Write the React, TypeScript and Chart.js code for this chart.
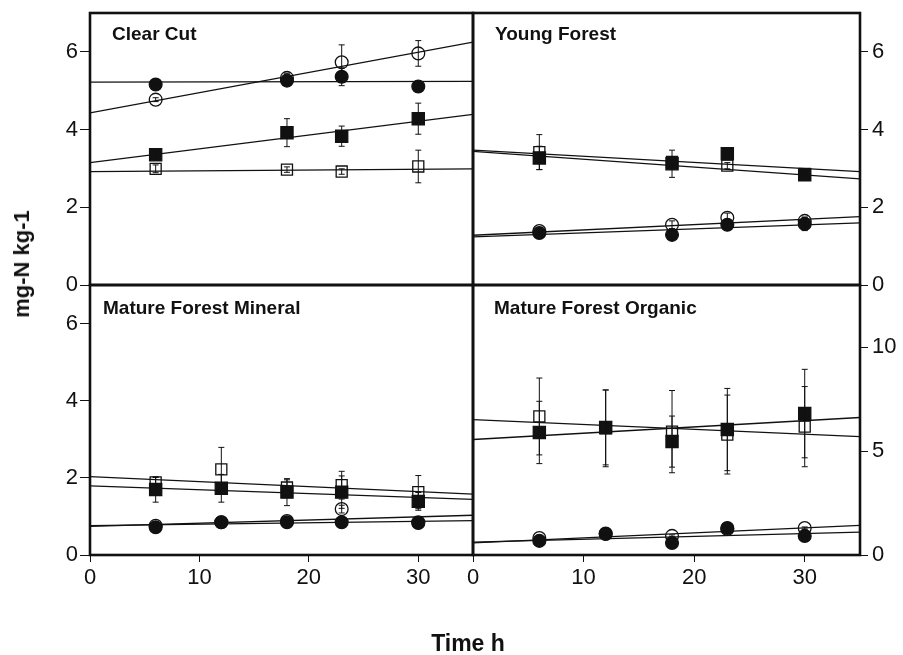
import React, { useEffect, useRef } from "react";
import { Chart, registerables } from "chart.js";

Chart.register(...registerables);

// ---------------- data ----------------
const X_MAX = 35;
const xTicks = [0, 10, 20, 30];
const yTicksN = [0, 2, 4, 6];
const yTicksOrganic = [0, 5, 10];

// Clear Cut
const ccTimes = [6, 18, 23, 30];
const ccOpenCircle = [4.77, 5.33, 5.73, 5.96];
const ccOpenCircleErr = [0.05, 0.12, 0.45, 0.33];
const ccFilledCircle = [5.16, 5.26, 5.36, 5.11];
const ccFilledCircleErr = [0.05, 0.1, 0.23, 0.05];
const ccFilledSquare = [3.35, 3.92, 3.83, 4.28];
const ccFilledSquareErr = [0.1, 0.36, 0.26, 0.4];
const ccOpenSquare = [2.99, 2.97, 2.92, 3.05];
const ccOpenSquareErr = [0.1, 0.07, 0.07, 0.42];
const ccFitOpenCircle = [4.43, 6.25];
const ccFitFilledCircle = [5.22, 5.24];
const ccFitFilledSquare = [3.15, 4.39];
const ccFitOpenSquare = [2.92, 2.99];

// Young Forest
const yfTimes = [6, 18, 23, 30];
const yfOpenCircle = [1.39, 1.55, 1.73, 1.65];
const yfOpenCircleErr = [0.05, 0.1, 0.12, 0.1];
const yfFilledCircle = [1.34, 1.29, 1.55, 1.57];
const yfFilledCircleErr = [0.05, 0.1, 0.08, 0.17];
const yfFilledSquare = [3.27, 3.12, 3.38, 2.84];
const yfFilledSquareErr = [0.3, 0.35, 0, 0.05];
const yfOpenSquare = [3.42, 3.17, 3.07, 2.86];
const yfOpenSquareErr = [0.45, 0.1, 0.08, 0.05];
const yfFitOpenCircle = [1.28, 1.76];
const yfFitFilledCircle = [1.24, 1.6];
const yfFitFilledSquare = [3.44, 2.73];
const yfFitOpenSquare = [3.47, 2.92];

// Mature Forest Mineral
const mmTimes = [6, 12, 18, 23, 30];
const mmOpenCircle = [0.76, 0.85, 0.88, 1.19, 0.85];
const mmOpenCircleErr = [0.03, 0.03, 0.05, 0.1, 0.05];
const mmFilledCircle = [0.72, 0.85, 0.85, 0.85, 0.83];
const mmFilledCircleErr = [0.05, 0.05, 0.05, 0.05, 0.05];
const mmFilledSquare = [1.7, 1.73, 1.63, 1.63, 1.39];
const mmFilledSquareErr = [0.33, 0.36, 0.35, 0.42, 0.23];
const mmOpenSquare = [1.88, 2.22, 1.75, 1.81, 1.63];
const mmOpenSquareErr = [0.13, 0.57, 0.2, 0.36, 0.43];
const mmFitOpenCircle = [0.74, 1.03];
const mmFitFilledCircle = [0.76, 0.89];
const mmFitFilledSquare = [1.79, 1.44];
const mmFitOpenSquare = [2.03, 1.58];

// Mature Forest Organic
const moTimes = [6, 12, 18, 23, 30];
const moOpenCircle = [0.82, 1.03, 0.92, 1.25, 1.3];
const moOpenCircleErr = [0.05, 0.05, 0.05, 0.05, 0.05];
const moFilledCircle = [0.68, 1.01, 0.58, 1.3, 0.92];
const moFilledCircleErr = [0.05, 0.05, 0.05, 0.05, 0.05];
const moFilledSquare = [5.9, 6.14, 5.46, 6.04, 6.81];
const moFilledSquareErr = [1.5, 1.8, 1.23, 1.98, 2.13];
const moOpenSquare = [6.67, 6.1, 5.94, 5.8, 6.18];
const moOpenSquareErr = [1.85, 1.85, 1.98, 1.9, 1.93];
const moFitOpenCircle = [0.58, 1.43];
const moFitFilledCircle = [0.62, 1.1];
const moFitFilledSquare = [5.56, 6.62];
const moFitOpenSquare = [6.52, 5.7];

// ---------------- styles ----------------
const FONT = '"Liberation Sans", Arial, Helvetica, sans-serif';
const INK = "#111";

const markerStyles: Record<string, any> = {
  openCircle: { pointStyle: "circle", radius: 6.4, fill: "rgba(0,0,0,0)" },
  filledCircle: { pointStyle: "circle", radius: 6.4, fill: INK },
  filledSquare: { pointStyle: "rect", radius: 8.6, fill: INK },
  openSquare: { pointStyle: "rect", radius: 7.8, fill: "rgba(0,0,0,0)" },
};

function markerDataset(times: number[], values: number[], errors: number[], kind: string) {
  const st = markerStyles[kind];
  return {
    data: times.map((t, i) => ({ x: t, y: values[i] })),
    errors,
    showLine: false,
    pointStyle: st.pointStyle,
    pointRadius: st.radius,
    pointBackgroundColor: st.fill,
    pointBorderColor: INK,
    pointBorderWidth: 1.3,
  };
}

function fitDataset(fit: number[]) {
  return {
    data: [
      { x: 0, y: fit[0] },
      { x: X_MAX, y: fit[1] },
    ],
    showLine: true,
    pointRadius: 0,
    borderColor: INK,
    borderWidth: 1.3,
    fill: false,
  };
}

const errorBarPlugin = {
  id: "errorBars",
  afterDatasetsDraw(chart: any) {
    const ctx = chart.ctx;
    const ys = chart.scales.y;
    ctx.save();
    ctx.strokeStyle = INK;
    ctx.lineWidth = 1;
    chart.data.datasets.forEach((ds: any, di: number) => {
      if (!ds.errors) return;
      const meta = chart.getDatasetMeta(di);
      meta.data.forEach((pt: any, i: number) => {
        const e = ds.errors[i];
        if (!e) return;
        const v = ds.data[i].y;
        const x = pt.x;
        const y1 = ys.getPixelForValue(v + e);
        const y2 = ys.getPixelForValue(v - e);
        ctx.beginPath();
        ctx.moveTo(x, y1);
        ctx.lineTo(x, y2);
        ctx.moveTo(x - 3, y1);
        ctx.lineTo(x + 3, y1);
        ctx.moveTo(x - 3, y2);
        ctx.lineTo(x + 3, y2);
        ctx.stroke();
      });
    });
    ctx.restore();
  },
};

const framePlugin = {
  id: "frame",
  afterDraw(chart: any, _args: any, opts: any) {
    const { left, top, right, bottom } = chart.chartArea;
    const ctx = chart.ctx;
    ctx.save();
    ctx.strokeStyle = INK;
    ctx.lineWidth = 2.6;
    ctx.strokeRect(left, top, right - left, bottom - top);
    if (opts && opts.text) {
      ctx.fillStyle = INK;
      ctx.font = `bold 19px ${FONT}`;
      ctx.textBaseline = "middle";
      ctx.textAlign = "left";
      ctx.fillText(opts.text, left + opts.dx, top + opts.dy);
    }
    ctx.restore();
  },
};

interface PanelDef {
  title: string;
  dx: number;
  dy: number;
  area: [number, number, number, number]; // left, top, right, bottom
  yPos: "left" | "right";
  yMax: number;
  yTicks: number[];
  showX: boolean;
  datasets: any[];
}

const W = 903;
const H = 655;
const Y_AXIS_W_LEFT = 50;
const Y_AXIS_W_RIGHT = 43;
const X_AXIS_H = 40;

function zeroPadding(s: any) {
  s.paddingTop = 0;
  s.paddingBottom = 0;
  s.paddingLeft = 0;
  s.paddingRight = 0;
}

function buildConfig(p: PanelDef): any {
  const [l, t, r, b] = p.area;
  const padLeft = p.yPos === "left" ? l - Y_AXIS_W_LEFT : l;
  const padRight = p.yPos === "right" ? W - r - Y_AXIS_W_RIGHT : W - r;
  const padBottom = p.showX ? H - b - X_AXIS_H : H - b;
  return {
    type: "scatter",
    data: { datasets: p.datasets },
    options: {
      responsive: false,
      animation: false,
      events: [],
      layout: { padding: { left: padLeft, right: padRight, top: t, bottom: padBottom } },
      plugins: {
        legend: { display: false },
        tooltip: { enabled: false },
        frame: { text: p.title, dx: p.dx, dy: p.dy },
      },
      scales: {
        x: {
          type: "linear",
          min: 0,
          max: X_MAX,
          display: p.showX,
          afterBuildTicks: (s: any) => {
            s.ticks = xTicks.map((v) => ({ value: v }));
          },
          afterFit: (s: any) => {
            s.height = p.showX ? X_AXIS_H : 0;
            zeroPadding(s);
          },
          grid: { drawOnChartArea: false, drawTicks: true, tickLength: 7, color: INK, lineWidth: 1 },
          border: { display: false },
          ticks: { font: { family: FONT, size: 22 }, color: INK, padding: 3, maxRotation: 0, autoSkip: false },
        },
        y: {
          type: "linear",
          position: p.yPos,
          min: 0,
          max: p.yMax,
          afterBuildTicks: (s: any) => {
            s.ticks = p.yTicks.map((v) => ({ value: v }));
          },
          afterFit: (s: any) => {
            s.width = p.yPos === "left" ? Y_AXIS_W_LEFT : Y_AXIS_W_RIGHT;
            zeroPadding(s);
          },
          grid: { drawOnChartArea: false, drawTicks: true, tickLength: p.yPos === "left" ? 10 : 8, color: INK, lineWidth: 1 },
          border: { display: false },
          ticks: { font: { family: FONT, size: 22 }, color: INK, padding: p.yPos === "left" ? 2 : 4, autoSkip: false },
        },
      },
    },
    plugins: [errorBarPlugin, framePlugin],
  };
}

function panelDatasets(
  times: number[],
  oc: number[], ocE: number[],
  fc: number[], fcE: number[],
  fs: number[], fsE: number[],
  os: number[], osE: number[],
  fits: number[][]
) {
  return [
    markerDataset(times, fc, fcE, "filledCircle"),
    markerDataset(times, fs, fsE, "filledSquare"),
    markerDataset(times, oc, ocE, "openCircle"),
    markerDataset(times, os, osE, "openSquare"),
    ...fits.map((f) => fitDataset(f)),
  ];
}

const panels: PanelDef[] = [
  {
    title: "Clear Cut",
    dx: 22,
    dy: 22,
    area: [90, 13, 473, 285],
    yPos: "left",
    yMax: 7,
    yTicks: yTicksN,
    showX: false,
    datasets: panelDatasets(
      ccTimes,
      ccOpenCircle, ccOpenCircleErr,
      ccFilledCircle, ccFilledCircleErr,
      ccFilledSquare, ccFilledSquareErr,
      ccOpenSquare, ccOpenSquareErr,
      [ccFitOpenCircle, ccFitFilledCircle, ccFitFilledSquare, ccFitOpenSquare]
    ),
  },
  {
    title: "Young Forest",
    dx: 22,
    dy: 22,
    area: [473, 13, 860, 285],
    yPos: "right",
    yMax: 7,
    yTicks: yTicksN,
    showX: false,
    datasets: panelDatasets(
      yfTimes,
      yfOpenCircle, yfOpenCircleErr,
      yfFilledCircle, yfFilledCircleErr,
      yfFilledSquare, yfFilledSquareErr,
      yfOpenSquare, yfOpenSquareErr,
      [yfFitOpenCircle, yfFitFilledCircle, yfFitFilledSquare, yfFitOpenSquare]
    ),
  },
  {
    title: "Mature Forest Mineral",
    dx: 13,
    dy: 24,
    area: [90, 285, 473, 555],
    yPos: "left",
    yMax: 7,
    yTicks: yTicksN,
    showX: true,
    datasets: panelDatasets(
      mmTimes,
      mmOpenCircle, mmOpenCircleErr,
      mmFilledCircle, mmFilledCircleErr,
      mmFilledSquare, mmFilledSquareErr,
      mmOpenSquare, mmOpenSquareErr,
      [mmFitOpenCircle, mmFitFilledCircle, mmFitFilledSquare, mmFitOpenSquare]
    ),
  },
  {
    title: "Mature Forest Organic",
    dx: 21,
    dy: 24,
    area: [473, 285, 860, 555],
    yPos: "right",
    yMax: 13,
    yTicks: yTicksOrganic,
    showX: true,
    datasets: panelDatasets(
      moTimes,
      moOpenCircle, moOpenCircleErr,
      moFilledCircle, moFilledCircleErr,
      moFilledSquare, moFilledSquareErr,
      moOpenSquare, moOpenSquareErr,
      [moFitOpenCircle, moFitFilledCircle, moFitFilledSquare, moFitOpenSquare]
    ),
  },
];

export default function App() {
  const refs = [useRef<HTMLCanvasElement>(null), useRef<HTMLCanvasElement>(null), useRef<HTMLCanvasElement>(null), useRef<HTMLCanvasElement>(null)];

  useEffect(() => {
    const charts = panels.map((p, i) => new Chart(refs[i].current as HTMLCanvasElement, buildConfig(p)));
    return () => charts.forEach((c) => c.destroy());
  }, []);

  return (
    <div style={{ position: "absolute", left: 0, top: 0, width: W, height: H, background: "#fff", overflow: "hidden" }}>
      {panels.map((p, i) => (
        <canvas
          key={p.title}
          ref={refs[i]}
          width={W}
          height={H}
          style={{ position: "absolute", left: 0, top: 0, width: W, height: H }}
        />
      ))}
      <div
        style={{
          position: "absolute",
          left: 22,
          top: 264,
          transform: "translate(-50%, -50%) rotate(-90deg)",
          whiteSpace: "nowrap",
          fontFamily: FONT,
          fontWeight: "bold",
          fontSize: 22,
          color: INK,
          lineHeight: 1,
        }}
      >
        mg-N kg-1
      </div>
      <div
        style={{
          position: "absolute",
          left: 468,
          top: 643,
          transform: "translate(-50%, -50%)",
          whiteSpace: "nowrap",
          fontFamily: FONT,
          fontWeight: "bold",
          fontSize: 23,
          color: INK,
          lineHeight: 1,
        }}
      >
        Time h
      </div>
    </div>
  );
}
